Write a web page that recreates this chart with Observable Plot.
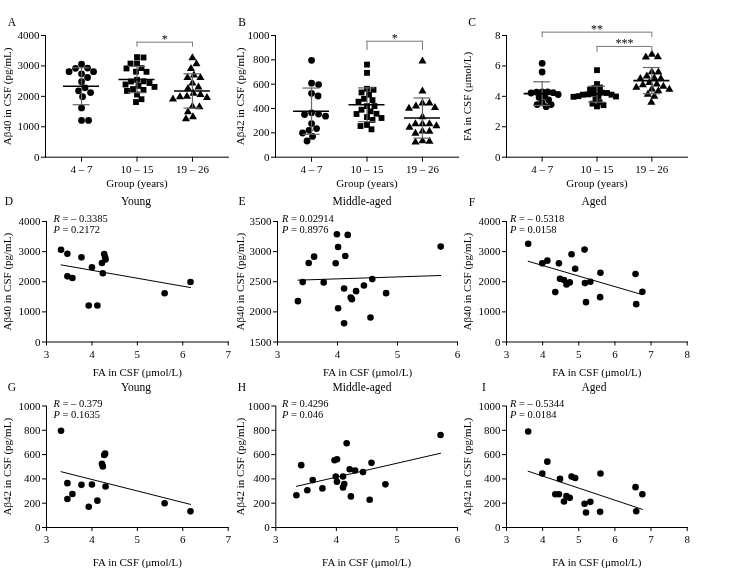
<!DOCTYPE html>
<html><head><meta charset="utf-8">
<script src="https://cdn.jsdelivr.net/npm/d3@7"></script>
<script src="https://cdn.jsdelivr.net/npm/@observablehq/plot@0.6"></script>
<style>
body{margin:0;background:#fff;}
#fig{position:relative;width:756px;height:573px;font-family:'Liberation Serif','Times New Roman',serif;color:#000;overflow:hidden;background:#fff}
#fig svg{will-change:transform;-webkit-font-smoothing:antialiased}
.lbl{position:absolute;transform:translate(-50%,-50%);white-space:nowrap;line-height:1;font-size:11.5px}
.stat{position:absolute;transform:translateY(-50%);white-space:nowrap;line-height:1;font-size:10.5px}
</style></head><body><div id="fig"></div>
<script>
// ---- data ----
const groupLabels = ["4 – 7", "10 – 15", "19 – 26"];
const panelTitles = ["Young", "Middle-aged", "Aged"];

const youngFA   = [3.32, 3.46, 3.46, 3.57, 3.77, 3.93, 4.00, 4.12, 4.22, 4.24, 4.27, 4.29, 4.30, 5.60, 6.17];
const youngAb40 = [3060, 2930, 2180, 2125, 2810, 1210, 2480, 1210, 2620, 2280, 2920, 2810, 2740, 1620, 1990];
const youngAb42 = [796, 365, 235, 276, 351, 171, 354, 221, 525, 503, 597, 608, 337, 199, 133];

const middleFA   = [3.34, 3.42, 3.52, 3.61, 3.77, 3.97, 3.99, 4.01, 4.01, 4.17, 4.13, 4.11, 4.11, 4.22, 4.24, 4.31, 4.44, 4.58, 4.55, 4.81, 5.72];
const middleAb40 = [2178, 2494, 2811, 2917, 2489, 2806, 3289, 3078, 2061, 3278, 2928, 2389, 1811, 2239, 2211, 2344, 2439, 2544, 1906, 2311, 3083];
const middleAb42 = [265, 513, 306, 390, 322, 554, 420, 562, 377, 693, 357, 420, 330, 480, 256, 469, 456, 532, 229, 355, 761];

const agedFA   = [3.60, 3.99, 4.13, 4.35, 4.45, 4.48, 4.59, 4.66, 4.75, 4.80, 4.90, 5.16, 5.17, 5.20, 5.32, 5.60, 5.59, 6.57, 6.59, 6.76];
const agedAb40 = [3260, 2611, 2700, 1656, 2611, 2100, 2056, 1911, 1978, 2911, 2433, 3067, 1956, 1322, 2000, 2300, 1489, 2256, 1256, 1667];
const agedFA42 = [3.60, 3.99, 4.13, 4.35, 4.45, 4.48, 4.59, 4.66, 4.75, 4.80, 4.90, 5.16, 5.20, 5.32, 5.60, 5.59, 6.57, 6.59, 6.76];
const agedAb42 = [790, 444, 542, 274, 274, 400, 214, 258, 244, 419, 408, 195, 123, 211, 444, 129, 332, 134, 274];

const statR = ["– 0.3385", "0.02914", "– 0.5318", "– 0.379", "0.4296", "– 0.5344"];
const statP = ["0.2172", "0.8976", "0.0158", "0.1635", "0.046", "0.0184"];

const bracketsA = [{from: 2, to: 3, label: "*"}];
const bracketsB = [{from: 2, to: 3, label: "*"}];
const bracketsC = [{from: 1, to: 3, label: "**"}, {from: 2, to: 3, label: "***"}];

// ---- helpers ----
const fig = document.getElementById("fig");
const FONT = "'Liberation Serif', 'Times New Roman', serif";

function place(svg, left, top) {
  Object.assign(svg.style, {position: "absolute", left: left + "px", top: top + "px"});
  fig.appendChild(svg);
}

function swarm(values, pxPerUnit, diam) {
  const order = d3.range(values.length).sort((a, b) => d3.descending(values[a], values[b]));
  const placed = [];
  const out = new Array(values.length).fill(0);
  for (const i of order) {
    const py = values[i] * pxPerUnit;
    let x = 0;
    for (let k = 0; k < 600; k++) {
      const c = k === 0 ? 0 : (k % 2 ? 1 : -1) * Math.ceil(k / 2) * 0.5;
      if (placed.every(p => (p.x - c) ** 2 + (p.y - py) ** 2 >= diam * diam)) { x = c; break; }
    }
    placed.push({x, y: py});
    out[i] = x;
  }
  return out;
}

const baseStyle = {background: "none", fontFamily: FONT, fontSize: "11px", overflow: "visible", color: "#000"};

function groupPanel(cfg) {
  const xDom = [0.35, 3.65];
  const kx = (cfg.width - cfg.mL - cfg.mR) / (xDom[1] - xDom[0]);
  const ky = (cfg.height - cfg.mT - cfg.mB) / (cfg.yDomain[1] - cfg.yDomain[0]);
  const symbols = ["circle", "square", "triangle"];
  const radii = [3.4, 3.3, 3.0];
  const marks = [];
  const stats = [];
  cfg.groups.forEach((vals, gi) => {
    const off = swarm(vals, ky, cfg.diam[gi]);
    const pts = vals.map((v, j) => ({x: gi + 1 + off[j] / kx, y: v}));
    marks.push(Plot.dot(pts, {x: "x", y: "y", symbol: symbols[gi], r: radii[gi], fill: "black", stroke: "none"}));
    const m = d3.mean(vals), s = d3.deviation(vals);
    stats.push({x: gi + 1, mean: m, lo: m - s, hi: m + s});
  });
  const mh = 18 / kx, ch = 8.5 / kx;
  marks.push(
    Plot.ruleX(stats, {x: "x", y1: "lo", y2: "hi", stroke: "#666", strokeWidth: 1.2}),
    Plot.ruleY(stats, {y: "hi", x1: d => d.x - ch, x2: d => d.x + ch, stroke: "#666", strokeWidth: 1.2}),
    Plot.ruleY(stats, {y: "lo", x1: d => d.x - ch, x2: d => d.x + ch, stroke: "#666", strokeWidth: 1.2}),
    Plot.ruleY(stats, {y: "mean", x1: d => d.x - mh, x2: d => d.x + mh, stroke: "#000", strokeWidth: 1.6})
  );
  const br = cfg.brackets.map((b, i) => ({...b, level: cfg.bracketLevels[i][0], drop: cfg.bracketLevels[i][1]}));
  marks.push(
    Plot.ruleY(br, {y: "level", x1: "from", x2: "to", stroke: "#777"}),
    Plot.ruleX(br, {x: "from", y1: "drop", y2: "level", stroke: "#777"}),
    Plot.ruleX(br, {x: "to", y1: "drop", y2: "level", stroke: "#777"}),
    Plot.text(br, {x: d => (d.from + d.to) / 2, y: "level", text: "label", lineAnchor: "bottom", dy: 1,
                   fontSize: 12, fill: "black"})
  );
  const svg = Plot.plot({
    width: cfg.width, height: cfg.height,
    marginLeft: cfg.mL, marginRight: cfg.mR, marginTop: cfg.mT, marginBottom: cfg.mB,
    style: baseStyle,
    x: {domain: xDom, ticks: [1, 2, 3], tickFormat: i => groupLabels[i - 1], tickSize: 5, tickPadding: 3,
        line: true, label: "Group (years)", labelAnchor: "center", labelArrow: "none"},
    y: {domain: cfg.yDomain, ticks: cfg.yTicks, tickFormat: d3.format("d"), tickSize: 4, tickPadding: 2,
        line: true, label: cfg.yLabel, labelAnchor: "center", labelArrow: "none"},
    marks
  });
  place(svg, cfg.left, cfg.top);
}

function scatterPanel(cfg) {
  const data = cfg.fa.map((f, i) => ({x: f, y: cfg.ab[i]}));
  const svg = Plot.plot({
    width: cfg.width, height: cfg.height,
    marginLeft: cfg.mL, marginRight: cfg.mR, marginTop: cfg.mT, marginBottom: cfg.mB,
    style: baseStyle,
    x: {domain: cfg.xDomain, ticks: d3.range(cfg.xDomain[0], cfg.xDomain[1] + 1), tickFormat: d3.format("d"),
        tickSize: 4, tickPadding: 4, line: true, label: "FA in CSF (μmol/L)", labelAnchor: "center", labelArrow: "none"},
    y: {domain: cfg.yDomain, ticks: cfg.yTicks, tickFormat: d3.format("d"), tickSize: 4, tickPadding: 2,
        line: true, label: cfg.yLabel, labelAnchor: "center", labelArrow: "none"},
    marks: [
      Plot.linearRegressionY(data, {x: "x", y: "y", ci: 0, stroke: "black", strokeWidth: 1}),
      Plot.dot(data, {x: "x", y: "y", r: 3.3, fill: "black", stroke: "none"})
    ]
  });
  place(svg, cfg.left, cfg.top);
}

function addText(cls, html, x, y) {
  const d = document.createElement("div");
  d.className = cls;
  d.innerHTML = html;
  d.style.left = x + "px";
  d.style.top = y + "px";
  fig.appendChild(d);
}

// ---- layout ----
const cols = [
  {left: 0, width: 233},
  {left: 233, width: 227},
  {left: 460, width: 296}
];

// Row 1: group comparisons
const row1 = {top: 0, height: 189.5, mT: 35, mB: 32.8};
groupPanel({...row1, ...cols[0], mL: 45, mR: 5, groups: [youngAb40, middleAb40, agedAb40],
  yDomain: [0, 4000], yTicks: d3.range(0, 4001, 1000), yLabel: "Aβ40 in CSF (pg/mL)",
  brackets: bracketsA, bracketLevels: [[3780, 3615]], diam: [7, 6.2, 7]});
groupPanel({...row1, ...cols[1], mL: 42, mR: 2, groups: [youngAb42, middleAb42, agedAb42],
  yDomain: [0, 1000], yTicks: d3.range(0, 1001, 200), yLabel: "Aβ42 in CSF (pg/mL)",
  brackets: bracketsB, bracketLevels: [[953, 877]], diam: [7, 6.2, 7]});
groupPanel({...row1, ...cols[2], mL: 46, mR: 69, groups: [youngFA, middleFA, agedFA],
  yDomain: [0, 8], yTicks: d3.range(0, 9, 2), yLabel: "FA in CSF (μmol/L)",
  brackets: bracketsC, bracketLevels: [[8.22, 7.85], [7.28, 6.9]], diam: [5.2, 4.6, 6.5]});

// Row 2: Aβ40 vs FA
const row2 = {top: 195, height: 183.5, mT: 26, mB: 37};
scatterPanel({...row2, ...cols[0], mL: 46, mR: 5.3, fa: youngFA, ab: youngAb40, xDomain: [3, 7],
  yDomain: [0, 4000], yTicks: d3.range(0, 4001, 1000), yLabel: "Aβ40 in CSF (pg/mL)"});
scatterPanel({...row2, ...cols[1], mL: 44, mR: 3, fa: middleFA, ab: middleAb40, xDomain: [3, 6],
  yDomain: [1500, 3500], yTicks: d3.range(1500, 3501, 500), yLabel: "Aβ40 in CSF (pg/mL)"});
scatterPanel({...row2, ...cols[2], mL: 46, mR: 69.3, fa: agedFA, ab: agedAb40, xDomain: [3, 8],
  yDomain: [0, 4000], yTicks: d3.range(0, 4001, 1000), yLabel: "Aβ40 in CSF (pg/mL)"});

// Row 3: Aβ42 vs FA
const row3 = {top: 380, height: 188, mT: 25.5, mB: 41};
scatterPanel({...row3, ...cols[0], mL: 46, mR: 5.3, fa: youngFA, ab: youngAb42, xDomain: [3, 7],
  yDomain: [0, 1000], yTicks: d3.range(0, 1001, 200), yLabel: "Aβ42 in CSF (pg/mL)"});
scatterPanel({...row3, ...cols[1], mL: 42.3, mR: 3, fa: middleFA, ab: middleAb42, xDomain: [3, 6],
  yDomain: [0, 1000], yTicks: d3.range(0, 1001, 200), yLabel: "Aβ42 in CSF (pg/mL)"});
scatterPanel({...row3, ...cols[2], mL: 46, mR: 69.3, fa: agedFA42, ab: agedAb42, xDomain: [3, 8],
  yDomain: [0, 1000], yTicks: d3.range(0, 1001, 200), yLabel: "Aβ42 in CSF (pg/mL)"});

// ---- panel letters, titles, statistics ----
const letters = [["A", 12, 23], ["B", 242, 23], ["C", 472, 23],
                 ["D", 9, 202], ["E", 242, 202], ["F", 472, 203],
                 ["G", 12, 388], ["H", 242, 388], ["I", 484, 388]];
letters.forEach(([t, x, y]) => addText("lbl", t, x, y));

const titleX = [136, 362, 594];
panelTitles.forEach((t, i) => { addText("lbl", t, titleX[i], 202); addText("lbl", t, titleX[i], 388); });

const statX = [53.5, 282, 510];
const statY = [[219, 230], [404, 415]];
statR.forEach((r, i) => {
  const row = Math.floor(i / 3), col = i % 3;
  addText("stat", `<i>R</i> = ${r}`, statX[col], statY[row][0]);
  addText("stat", `<i>P</i> = ${statP[i]}`, statX[col], statY[row][1]);
});
</script></body></html>
